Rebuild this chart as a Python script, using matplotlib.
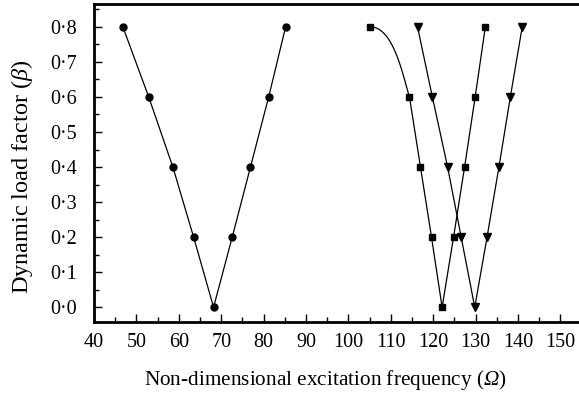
import numpy as np
import matplotlib
matplotlib.use("Agg")
import matplotlib.pyplot as plt
from matplotlib.ticker import MultipleLocator, FixedLocator

plt.rcParams['font.family'] = ['Liberation Serif', 'DejaVu Serif']
plt.rcParams['mathtext.fontset'] = 'custom'
plt.rcParams['mathtext.rm'] = 'Liberation Serif:italic'
plt.rcParams['mathtext.it'] = 'Liberation Serif:italic'

# Data
beta = [0.8, 0.6, 0.4, 0.2, 0.0, 0.2, 0.4, 0.6, 0.8]
omega_circle = [46.8, 52.9, 58.6, 63.5, 68.2, 72.6, 76.9, 81.2, 85.2]
omega_square = [105.1, 114.4, 117.0, 119.6, 122.1, 124.8, 127.4, 129.9, 132.3]
omega_tri = [116.3, 119.8, 123.4, 126.6, 129.8, 132.7, 135.5, 138.2, 141.0]

xticks = [40, 50, 60, 70, 80, 90, 100, 110, 120, 130, 140, 150]
yticks = [0.0, 0.1, 0.2, 0.3, 0.4, 0.5, 0.6, 0.7, 0.8]
ytick_labels = ['0·0', '0·1', '0·2', '0·3', '0·4', '0·5', '0·6', '0·7', '0·8']

W, H = 579, 398
fig = plt.figure(figsize=(W / 100, H / 100), dpi=100)
ax_left = 94 / W
ax_bottom = 1 - 322 / H
ax_top = 1 - 4 / H
x0, x1 = 40, 156
px_per_unit = 4.24
ax_width = (x1 - x0) * px_per_unit / W
ax = fig.add_axes([ax_left, ax_bottom, ax_width, ax_top - ax_bottom])
ax.set_xlim(x0, x1)
ax.set_ylim(-0.042, 0.865)

lw = 0.9
ms = 5.0
# circles
ax.plot(omega_circle, beta, '-', color='black', lw=lw, marker='o', ms=ms)

# squares: first segment drawn as smooth curve
xs, ys = omega_square, beta
P0 = np.array([xs[0], ys[0]])
P3 = np.array([xs[1], ys[1]])
d = np.array([xs[2] - xs[1], ys[2] - ys[1]])
d = d / np.hypot(d[0] / 10, d[1] / 0.1)
P1 = P0 + np.array([(P3[0] - P0[0]) * 0.6, 0.0])
P2 = P3 - d * np.array([1.2, 0.6])
t = np.linspace(0, 1, 60)[:, None]
B = (1 - t) ** 3 * P0 + 3 * (1 - t) ** 2 * t * P1 + 3 * (1 - t) * t ** 2 * P2 + t ** 3 * P3
ax.plot(B[:, 0], B[:, 1], '-', color='black', lw=lw)
ax.plot(xs[1:], ys[1:], '-', color='black', lw=lw)
ax.plot(xs, ys, 's', color='black', ms=ms, ls='none')

# triangles
ax.plot(omega_tri, beta, '-', color='black', lw=lw, marker='v', ms=ms + 0.6)

ax.xaxis.set_major_locator(FixedLocator(xticks))
ax.xaxis.set_minor_locator(MultipleLocator(5))
ax.set_xticklabels([str(v) for v in xticks])
ax.yaxis.set_major_locator(FixedLocator(yticks))
ax.yaxis.set_minor_locator(MultipleLocator(0.05))
ax.set_yticklabels(ytick_labels)

ax.tick_params(which='both', direction='in', width=1.0, labelsize=14.5, color='black')
ax.tick_params(which='major', length=6)
ax.tick_params(which='minor', length=3.5)
ax.tick_params(axis='x', pad=8)
ax.tick_params(axis='y', pad=12)
for s in ax.spines.values():
    s.set_linewidth(2.0)

fig.text(325.5 / W, 1 - 380 / H, 'Non-dimensional excitation frequency ($\\Omega$)',
         fontsize=15.3, ha='center', va='center')
fig.text(22 / W, 1 - 177 / H, 'Dynamic load factor ($\\beta$)',
         fontsize=17.5, ha='center', va='center', rotation=90)

fig.savefig('out.png', dpi=100)
